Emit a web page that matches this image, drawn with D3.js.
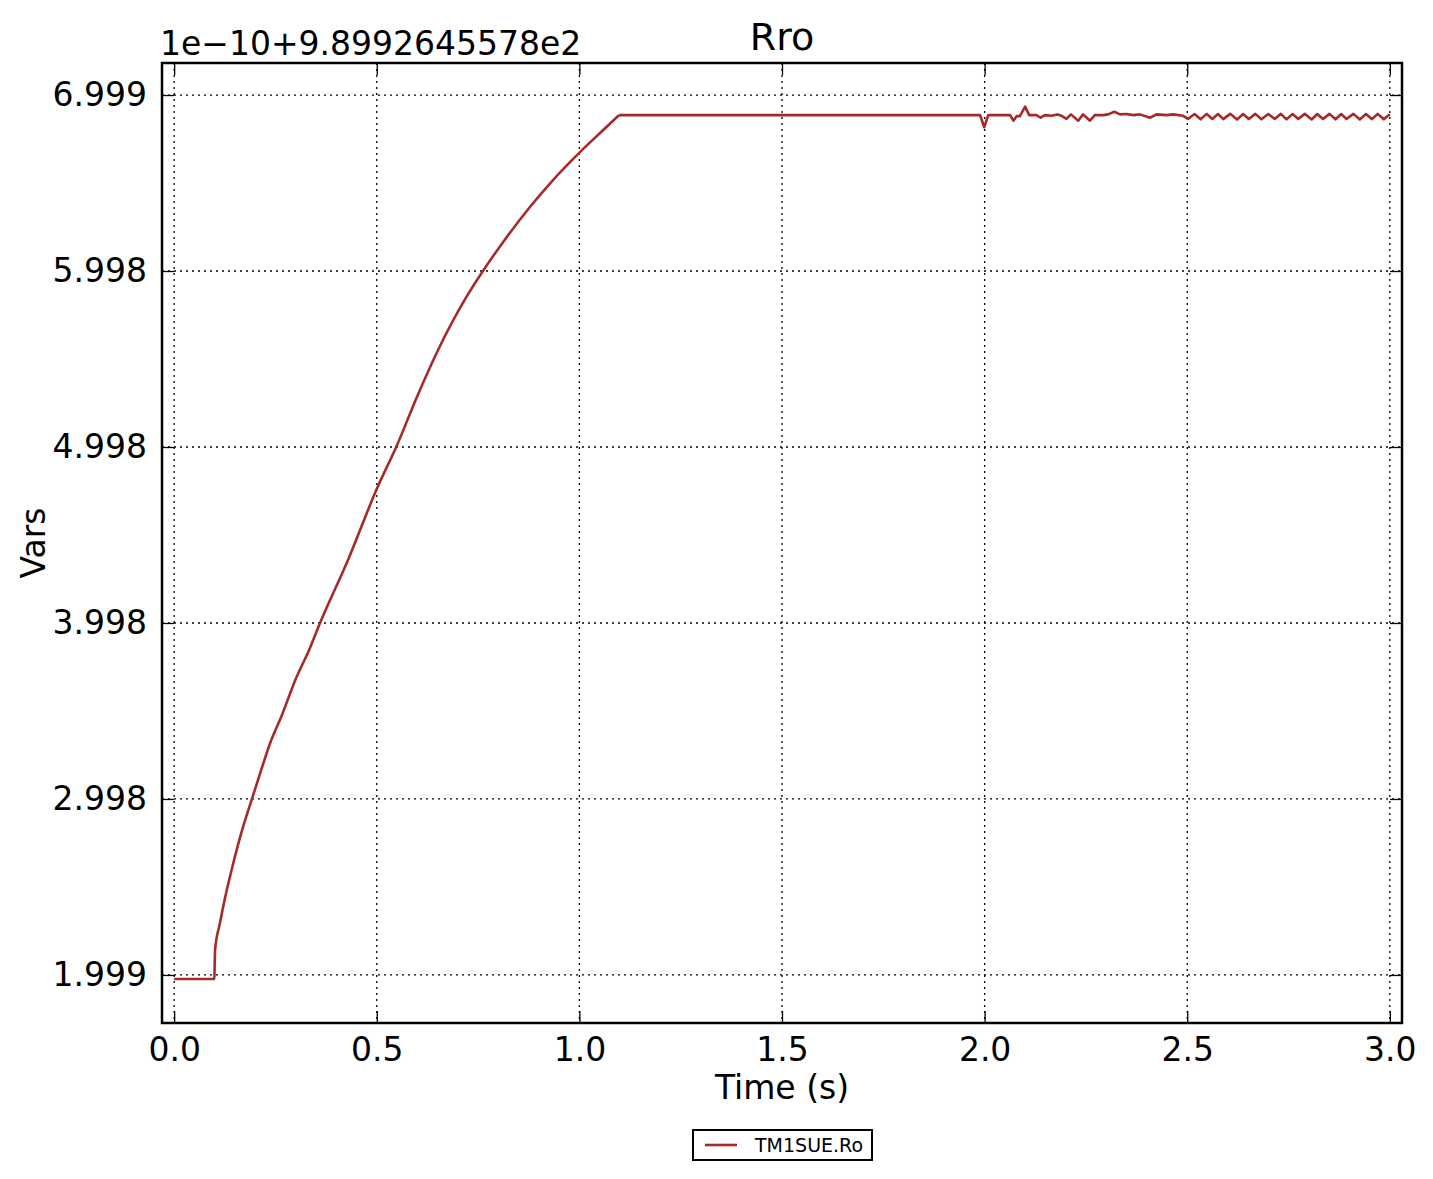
<!DOCTYPE html>
<html>
  <head>
    <meta charset="utf-8">
    <style>
    body {margin:0; background:white;}
    * { font-family: "DejaVu Sans"; }
    .grid line { stroke: #000; stroke-width: 1.3; stroke-dasharray: 2,4; }
    .axis path { display: none; }
    .axis line { stroke: #000; stroke-width: 1.3; }
    .axis text { font-size: 33px; fill: #000; }
    </style>
  </head>
  <body>
    <div id="chart"></div>
    <script src="https://d3js.org/d3.v7.min.js"></script>
<script>

  // data: time (s) and value (offset units of 1e-10 above 9.8992645578e2)

  var times = [0.0, 0.099, 0.101, 0.113, 0.126, 0.146, 0.170, 0.192, 0.207, 0.237, 0.266, 0.299, 0.333,
    0.360, 0.429, 0.501, 0.548, 0.602, 0.651, 0.718, 0.762, 0.812, 0.878, 0.935, 0.999, 1.051, 1.098,
    1.989, 1.999, 2.009, 2.063, 2.071, 2.079, 2.087, 2.100, 2.110, 2.128, 2.138, 2.149, 2.165, 2.179,
    2.190, 2.202, 2.213, 2.231, 2.243, 2.260, 2.272, 2.293, 2.305, 2.320, 2.334, 2.350, 2.367, 2.383,
    2.408, 2.424, 2.449, 2.465, 2.490, 2.502, 2.518, 2.533, 2.548, 2.562, 2.576, 2.589, 2.606, 2.623,
    2.638, 2.652, 2.668, 2.683, 2.700, 2.716, 2.731, 2.745, 2.760, 2.774, 2.790, 2.807, 2.821, 2.835,
    2.851, 2.866, 2.880, 2.893, 2.910, 2.926, 2.941, 2.956, 2.970, 2.985, 3.0];

  var values = [1.977, 1.977, 2.142, 2.295, 2.443, 2.636, 2.841, 3.000, 3.108, 3.318, 3.477, 3.676, 3.847,
    4.000, 4.358, 4.767, 5.000, 5.300, 5.550, 5.840, 6.000, 6.165, 6.364, 6.517, 6.670, 6.784, 6.886,
    6.886, 6.817, 6.886, 6.886, 6.854, 6.880, 6.880, 6.934, 6.886, 6.886, 6.871, 6.886, 6.882, 6.890,
    6.882, 6.864, 6.890, 6.854, 6.890, 6.854, 6.886, 6.886, 6.890, 6.905, 6.890, 6.892, 6.886, 6.890,
    6.871, 6.890, 6.886, 6.890, 6.882, 6.864, 6.892, 6.862, 6.893, 6.864, 6.892, 6.863, 6.893, 6.861,
    6.892, 6.864, 6.893, 6.862, 6.892, 6.864, 6.893, 6.862, 6.892, 6.864, 6.893, 6.861, 6.892, 6.864,
    6.893, 6.862, 6.892, 6.864, 6.893, 6.861, 6.892, 6.863, 6.893, 6.862, 6.891];

  // index where the rise ends and the flat / oscillating part begins
  var riseEnd = 26;

  var xTicks = [0.0, 0.5, 1.0, 1.5, 2.0, 2.5, 3.0];
  var yTicks = [2, 3, 4, 5, 6, 7];
  var yTickLabels = ["1.999", "2.998", "3.998", "4.998", "5.998", "6.999"];

  var data = times.map(function(t, i) { return {t: t, v: values[i]}; });

  // properties

  var W = 1433, H = 1179;
  var margin = { top: 63, left: 162, right: 31, bottom: 156 },
    width = W - margin.left - margin.right,
    height = H - margin.top - margin.bottom;

  var svg = d3.select("#chart")
    .append("svg")
    .attr("width", W)
    .attr("height", H);

  var g = svg.append("g")
    .attr("transform", "translate(" + margin.left + "," + margin.top + ")");

  var xscale = d3.scaleLinear().domain([-0.03, 3.03]).range([0, width]);
  var yscale = d3.scaleLinear().domain([1.727, 7.182]).range([height, 0]);

  // grid
  g.append("g").attr("class", "grid")
    .selectAll("line").data(xTicks).enter().append("line")
    .attr("x1", function(d) { return xscale(d); })
    .attr("x2", function(d) { return xscale(d); })
    .attr("y1", 0).attr("y2", height);

  g.append("g").attr("class", "grid")
    .selectAll("line").data(yTicks).enter().append("line")
    .attr("y1", function(d) { return yscale(d); })
    .attr("y2", function(d) { return yscale(d); })
    .attr("x1", 0).attr("x2", width);

  // axes, ticks pointing inward on all sides
  var fmtY = function(d) { return yTickLabels[yTicks.indexOf(d)]; };

  g.append("g").attr("class", "axis")
    .attr("transform", "translate(0," + height + ")")
    .call(d3.axisBottom(xscale).tickValues(xTicks).tickFormat(d3.format(".1f"))
      .tickSizeInner(-12).tickPadding(15));

  g.append("g").attr("class", "axis")
    .call(d3.axisTop(xscale).tickValues(xTicks).tickFormat("").tickSizeInner(-12));

  g.append("g").attr("class", "axis")
    .call(d3.axisLeft(yscale).tickValues(yTicks).tickFormat(fmtY)
      .tickSizeInner(-12).tickPadding(15));

  g.append("g").attr("class", "axis")
    .attr("transform", "translate(" + width + ",0)")
    .call(d3.axisRight(yscale).tickValues(yTicks).tickFormat("").tickSizeInner(-12));

  // line: smooth rise, then straight segments for the flat / ripple part
  var smooth = d3.line()
    .curve(d3.curveMonotoneX)
    .x(function(d) { return xscale(d.t); })
    .y(function(d) { return yscale(d.v); });

  var straight = d3.line()
    .x(function(d) { return xscale(d.t); })
    .y(function(d) { return yscale(d.v); });

  g.append("path")
    .datum(data.slice(0, riseEnd + 1))
    .attr("d", smooth)
    .attr("fill", "none")
    .attr("stroke", "#a52a2a")
    .attr("stroke-width", 2.6)
    .attr("stroke-linejoin", "round");

  g.append("path")
    .datum(data.slice(riseEnd))
    .attr("d", straight)
    .attr("fill", "none")
    .attr("stroke", "#a52a2a")
    .attr("stroke-width", 2.6)
    .attr("stroke-linejoin", "round");

  // frame
  g.append("rect")
    .attr("width", width).attr("height", height)
    .attr("fill", "none").attr("stroke", "#000").attr("stroke-width", 2.5);

  // texts
  svg.append("text")
    .attr("x", margin.left + width / 2)
    .attr("y", 50)
    .attr("text-anchor", "middle")
    .style("font-size", "38px")
    .text("Rro");

  svg.append("text")
    .attr("x", 160)
    .attr("y", 55)
    .style("font-size", "33px")
    .text("1e\u221210+9.8992645578e2");

  svg.append("text")
    .attr("x", margin.left + width / 2)
    .attr("y", 1099)
    .attr("text-anchor", "middle")
    .style("font-size", "33px")
    .text("Time (s)");

  svg.append("text")
    .attr("transform", "translate(45," + (margin.top + height / 2) + ") rotate(-90)")
    .attr("text-anchor", "middle")
    .style("font-size", "33px")
    .text("Vars");

  // legend
  var legend = svg.append("g").attr("transform", "translate(693,1130)");
  legend.append("rect")
    .attr("width", 179).attr("height", 30)
    .attr("fill", "white").attr("stroke", "#000").attr("stroke-width", 2);
  legend.append("line")
    .attr("x1", 12).attr("x2", 44).attr("y1", 15).attr("y2", 15)
    .attr("stroke", "#a52a2a").attr("stroke-width", 2.6);
  legend.append("text")
    .attr("x", 62).attr("y", 22)
    .style("font-size", "19px")
    .text("TM1SUE.Ro");

</script>
  </body>
</html>
